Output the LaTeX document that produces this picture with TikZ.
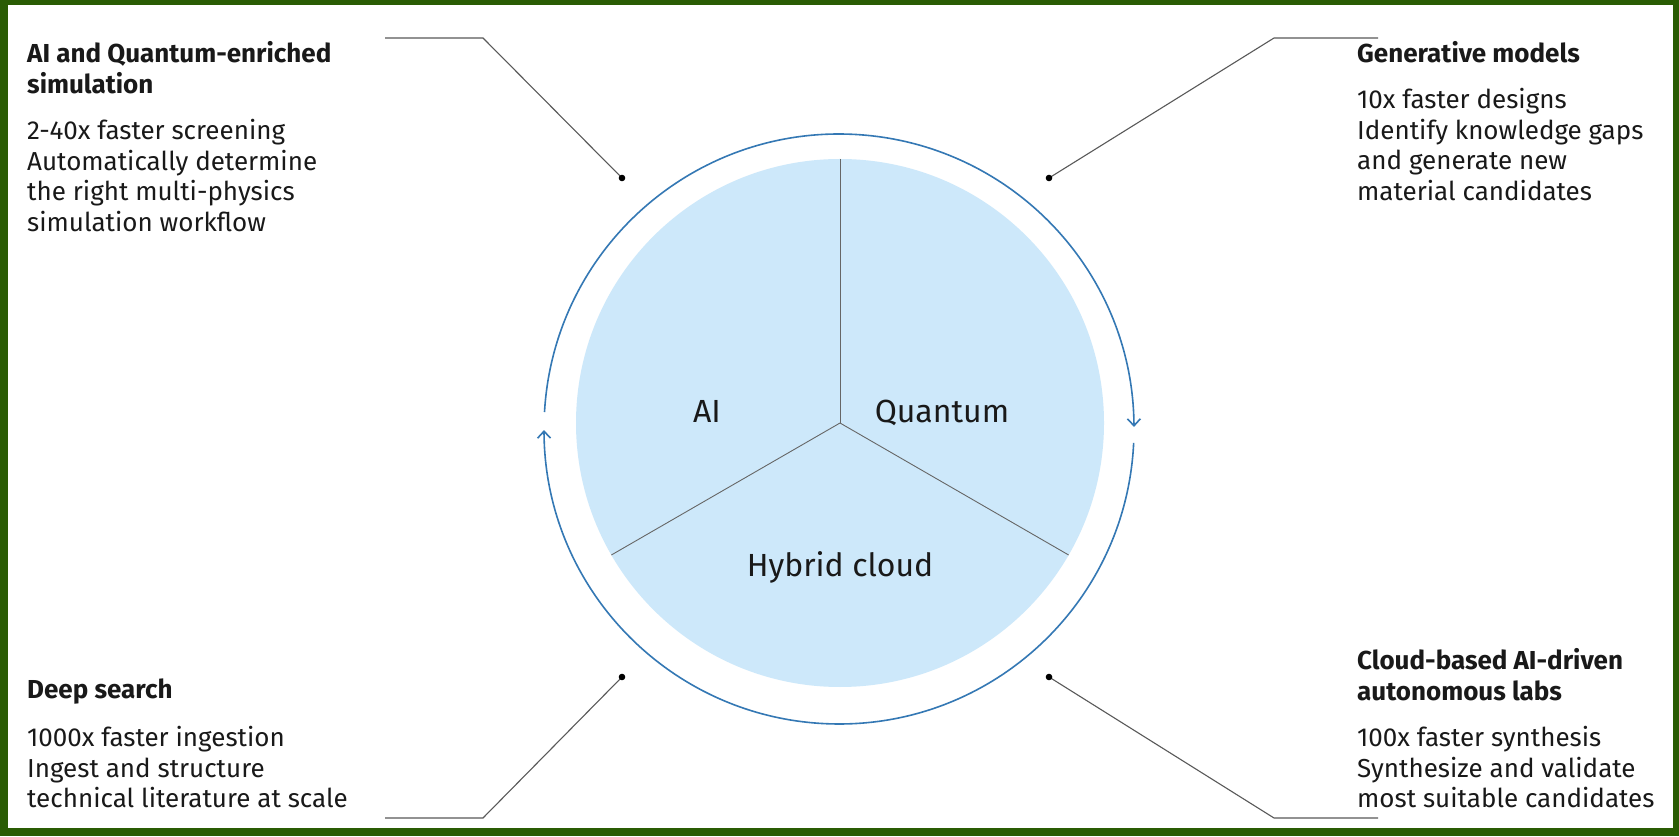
\documentclass[tikz,border=0pt]{standalone}
\usepackage{fontspec}
\setmainfont{Fira Sans}
\usetikzlibrary{arrows.meta}
\definecolor{frame}{RGB}{42,92,4}
\definecolor{pie}{RGB}{205,232,250}
\definecolor{ringblue}{RGB}{52,120,180}
\definecolor{ink}{RGB}{25,25,25}
\begin{document}
\begin{tikzpicture}[x=1pt,y=1pt,
  every node/.style={text=ink,inner sep=0pt},
  head/.style={font=\fontsize{26}{31}\selectfont\bfseries,align=left,anchor=north west},
  body/.style={font=\fontsize{26}{30.7}\selectfont,align=left,anchor=north west},
  part/.style={font=\fontsize{32}{36}\selectfont,anchor=base},
  leader/.style={draw=black!65,line width=1.1pt},
  ring/.style={draw=ringblue,line width=1.6pt,-{Straight Barb[length=7pt,width=13pt]}}]
  % green frame
  \fill[frame] (0,0) rectangle (1679,836);
  \fill[white] (8,8) rectangle (1673,831);
  \useasboundingbox (0,0) rectangle (1679,836);
  % pie in three parts
  \coordinate (c) at (840,413);
  \coordinate (o) at (839,407);
  \fill[pie] (c) circle[radius=264];
  \draw[black!60,line width=0.9pt] (c) -- ++(90:264) coordinate (cut1);
  \draw[black!60,line width=0.9pt] (c) -- ++(210:264) coordinate (cut2);
  \draw[black!60,line width=0.9pt] (c) -- ++(330:264) coordinate (cut3);
  \node[part] (ai) at (707,413) {AI};
  \node[part] (quantum) at (942,413) {Quantum};
  \node[part] (cloud) at (840,259) {Hybrid cloud};
  % cycle ring
  \draw[ring] (o) ++(176.7:295) arc[start angle=176.7, end angle=0.4, radius=295];
  \draw[ring] (o) ++(-2.7:295) arc[start angle=-2.7, end angle=-179.8, radius=295];
  % leaders
  \coordinate (d1) at (622,658);
  \coordinate (d2) at (1049,658);
  \coordinate (d3) at (622,159);
  \coordinate (d4) at (1049,159);
  \draw[leader] (d1) -- (483,798) coordinate (k1) -- (385,798) coordinate (e1);
  \draw[leader] (d2) -- (1274,798) coordinate (k2) -- (1378,798) coordinate (e2);
  \draw[leader] (d3) -- (483,18) coordinate (k3) -- (385,18) coordinate (e3);
  \draw[leader] (d4) -- (1274,18) coordinate (k4) -- (1378,18) coordinate (e4);
  \foreach \d in {d1,d2,d3,d4} \fill[black] (\d) circle[radius=3.3];
  % texts
  \node[head] (simhead) at (27,795) {AI and Quantum-enriched\\simulation};
  \node[body] (simbody) at (27,717) {2-40x faster screening\\Automatically determine\\the right multi-physics\\simulation workflow};
  \node[head] (genhead) at (1357,795) {Generative models};
  \node[body] (genbody) at (1357,748) {10x faster designs\\Identify knowledge gaps\\and generate new\\material candidates};
  \node[head] (deephead) at (27,157) {Deep search};
  \node[body] (deepbody) at (27,110) {1000x faster ingestion\\Ingest and structure\\technical literature at scale};
  \node[head] (labhead) at (1357,188) {Cloud-based AI-driven\\autonomous labs};
  \node[body] (labbody) at (1357,110) {100x faster synthesis\\Synthesize and validate\\most suitable candidates};
\end{tikzpicture}
\end{document}
